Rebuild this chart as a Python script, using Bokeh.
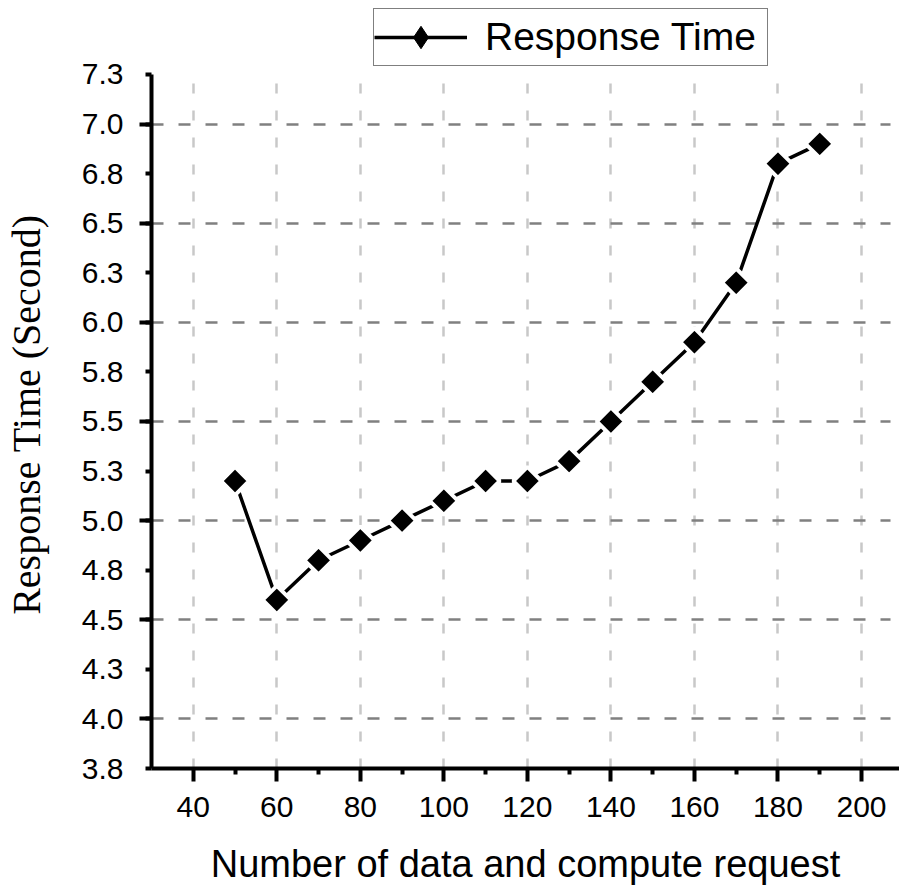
import math
from bokeh.plotting import figure
from bokeh.models import FixedTicker, Range1d, Legend, LegendItem
from bokeh.embed import file_html
from bokeh.resources import INLINE

# ---- data ----
requests = [50, 60, 70, 80, 90, 100, 110, 120, 130, 140, 150, 160, 170, 180, 190]
response_time = [5.2, 4.6, 4.8, 4.9, 5.0, 5.1, 5.2, 5.2, 5.3, 5.5, 5.7, 5.9, 6.2, 6.8, 6.9]

x_major_ticks = [40, 60, 80, 100, 120, 140, 160, 180, 200]
x_minor_ticks = [50, 70, 90, 110, 130, 150, 170, 190]
y_label_ticks = [3.75, 4.0, 4.25, 4.5, 4.75, 5.0, 5.25, 5.5, 5.75, 6.0, 6.25, 6.5, 6.75, 7.0, 7.25]
y_tick_labels = ["3.8", "4.0", "4.3", "4.5", "4.8", "5.0", "5.3", "5.5", "5.8", "6.0",
                 "6.3", "6.5", "6.8", "7.0", "7.3"]
y_major_ticks = [4.0, 4.5, 5.0, 5.5, 6.0, 6.5, 7.0]
x_axis_span = (30, 209.1)
y_axis_span = (3.75, 7.25)

# frame runs to the top of the page so the legend can sit above the axis end;
# the axis itself is bounded to 3.75..7.25
p = figure(width=899, height=888, x_range=Range1d(30, 209.1), y_range=Range1d(3.75, 7.623),
           output_backend="svg", toolbar_location=None,
           min_border_left=150, min_border_right=0, min_border_top=0, min_border_bottom=120)
p.outline_line_color = None
p.background_fill_color = "white"

# grids
p.xgrid.ticker = FixedTicker(ticks=x_major_ticks)
p.xgrid.cross_bounds = y_axis_span
p.xgrid.grid_line_color = "#c8c8c8"
p.xgrid.grid_line_width = 2.5
p.xgrid.grid_line_dash = "10 17"
p.ygrid.ticker = FixedTicker(ticks=y_major_ticks)
p.ygrid.cross_bounds = (30, 207)
p.ygrid.grid_line_color = "#808080"
p.ygrid.grid_line_width = 2.5
p.ygrid.grid_line_dash = "12 15"

# x axis
xa = p.xaxis[0]
xa.ticker = FixedTicker(ticks=x_major_ticks, minor_ticks=x_minor_ticks)
xa.axis_line_width = 4
xa.major_tick_line_width = 4
xa.minor_tick_line_width = 4
xa.major_tick_in = 0
xa.major_tick_out = 13
xa.minor_tick_in = 0
xa.minor_tick_out = 6
xa.major_label_standoff = 15
xa.major_label_text_font = "Liberation Sans"
xa.major_label_text_font_size = "30px"
xa.major_label_text_color = "black"
xa.axis_label = "Number of data and compute request"
xa.axis_label_text_font = "Liberation Sans"
xa.axis_label_text_font_size = "38px"
xa.axis_label_text_font_style = "normal"
xa.axis_label_text_color = "black"
xa.axis_label_standoff = 23

# y axis: labelled ticks every 0.25 (short), long ticks every 0.5
ya = p.yaxis[0]
ya.bounds = y_axis_span
ya.ticker = FixedTicker(ticks=y_label_ticks, minor_ticks=y_major_ticks)
ya.major_label_overrides = {v: s for v, s in zip(y_label_ticks, y_tick_labels)}
ya.axis_line_width = 4
ya.major_tick_line_width = 4
ya.minor_tick_line_width = 4
ya.major_tick_in = 0
ya.major_tick_out = 6
ya.minor_tick_in = 0
ya.minor_tick_out = 12
ya.major_label_standoff = 16
ya.major_label_text_font = "Liberation Sans"
ya.major_label_text_font_size = "30px"
ya.major_label_text_color = "black"
# trailing no-break spaces centre the visible title on the bounded axis (not on the taller frame)
ya.axis_label = "Response Time (Second)" + "\u00a0" * 6
ya.axis_label_text_font = "Liberation Serif"
ya.axis_label_text_font_size = "40px"
ya.axis_label_text_font_style = "normal"
ya.axis_label_text_color = "black"
ya.axis_label_standoff = 30

# series
line_r = p.line(requests, response_time, line_color="black", line_width=3.5)
scat = p.scatter(requests, response_time, marker="square", size=20, angle=math.pi / 4,
                 fill_color="black", line_color="white", line_width=4)
# legend-only marker (diamond) so the legend key shows a diamond
key = p.scatter(requests, response_time, marker="diamond", size=10,
                fill_color="black", line_color="black", line_width=1, visible=False)

legend = Legend(items=[LegendItem(label="Response Time", renderers=[line_r, key])],
                location=(222, 702), orientation="vertical",
                border_line_color="black", border_line_width=1.5,
                padding=0, margin=0, spacing=0,
                glyph_width=93, glyph_height=56, label_standoff=18,
                label_text_font="Liberation Sans", label_text_font_size="39px",
                label_text_color="black", label_height=56, label_width=282,
                background_fill_color="white", background_fill_alpha=1.0)
p.add_layout(legend, "center")

open("out.html", "w").write(file_html(p, INLINE))
